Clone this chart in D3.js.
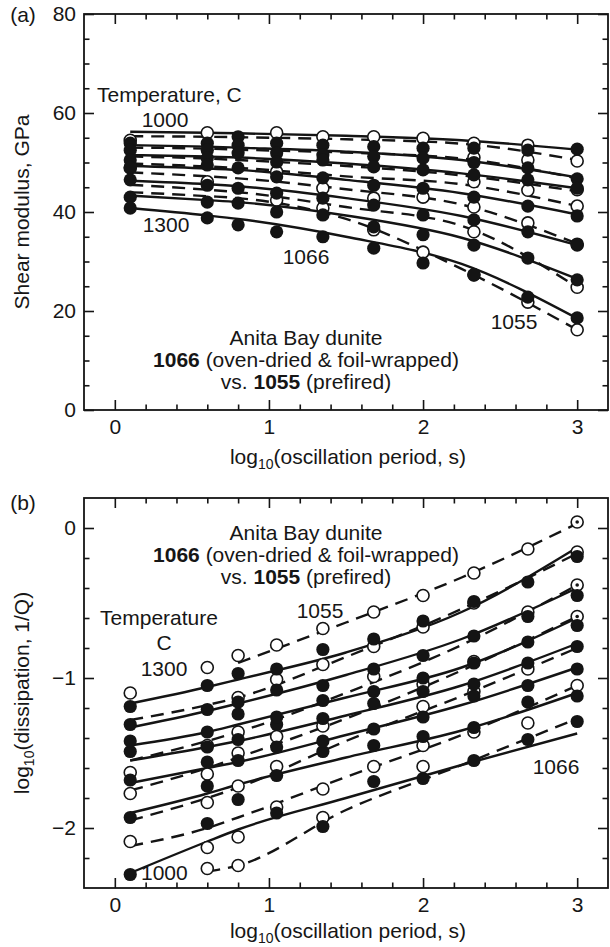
<!DOCTYPE html>
<html><head><meta charset="utf-8">
<script src="https://cdn.jsdelivr.net/npm/d3@7"></script>
<style>
body{margin:0;background:#fff}
svg{display:block}
text{font-family:"Liberation Sans",Arial,Helvetica,sans-serif;fill:#161616}
</style>
</head><body>
<svg id="c" width="610" height="947"></svg>
<script>
// ---------- data ----------
const logPeriod = [0.1, 0.6, 0.8, 1.05, 1.35, 1.68, 2.0, 2.33, 2.68, 3.0];
const temperatures = [1000, 1050, 1100, 1150, 1200, 1250, 1300];
const fitX = [0.1, 0.6, 0.8, 1.5, 2.25, 3.0];

// (a) shear modulus, GPa  (rows follow temperatures)
const modulus1066 = [
  [53.9, 53.9, 55.2, 53.9, 53.5, 53.2, 52.9, 52.9, 52.5, 52.7],
  [52.5, 52.5, 53.5, 51.9, 51.5, 51.2, 50.9, 50.0, 48.9, 46.7],
  [50.5, 50.9, 51.9, 50.1, 50.5, 49.1, 48.5, 47.5, 46.5, 44.8],
  [49.0, 49.5, 48.9, 47.1, 46.9, 45.4, 44.8, 43.0, 41.2, 39.2],
  [46.5, 45.4, 44.8, 43.8, 42.8, 41.4, 39.4, 38.4, 36.0, 33.3],
  [43.0, 42.0, 41.8, 40.0, 39.4, 37.0, 35.4, 33.3, 30.7, 26.3],
  [40.8, 38.8, 37.4, 36.0, 35.0, 32.7, 29.7, 27.3, 22.8, 18.6]
];
const modulus1055 = [
  [54.5, 56.0, null, 56.0, 55.2, 55.2, 54.9, 53.9, 53.5, 50.3],
  [null, null, null, null, null, null, null, 51.0, 50.5, null],
  [null, null, null, null, null, null, null, null, null, 44.5],
  [null, null, null, null, null, null, null, 46.1, 44.4, 41.2],
  [48.9, 46.1, null, 48.1, 44.8, 42.8, 43.0, 41.0, 37.8, 33.5],
  [null, null, null, null, null, null, null, 36.0, null, 24.8],
  [null, null, null, 42.4, 40.8, 36.4, 31.9, 27.3, 21.8, 16.2]
];
const modulusFit1066 = [
  [56.2, 56.0, 55.9, 55.4, 54.5, 52.6],
  [53.5, 53.2, 53.0, 52.2, 50.5, 47.0],
  [51.5, 51.2, 51.0, 49.8, 47.8, 44.8],
  [49.3, 48.8, 48.5, 46.5, 43.8, 39.5],
  [46.3, 45.6, 45.2, 42.8, 39.2, 33.3],
  [43.3, 42.4, 42.0, 39.3, 34.8, 26.5],
  [40.8, 39.3, 38.6, 35.0, 29.5, 18.5]
];
const modulusFit1055 = [
  [55.3, 55.2, 55.1, 54.7, 53.8, 50.5],
  [53.0, 52.8, 52.6, 52.0, 50.8, 46.8],
  [51.2, 50.8, 50.5, 49.3, 47.4, 44.2],
  [49.8, 49.2, 48.9, 47.2, 45.6, 41.2],
  [48.0, 47.2, 46.8, 44.6, 41.5, 33.6],
  [45.5, 44.5, 44.0, 41.0, 37.2, 24.8],
  [44.0, 43.2, 42.8, 38.6, 28.5, 16.2]
];

// (b) log10 dissipation
const dissipation1066 = [
  [-2.31, -1.97, null, -1.90, -1.99, -1.69, -1.67, -1.55, -1.41, -1.29],
  [-1.93, -1.72, -1.81, -1.65, -1.49, -1.45, -1.39, -1.33, -1.16, -1.12],
  [-1.68, -1.56, -1.55, -1.46, -1.42, -1.34, -1.26, -1.12, -1.05, -0.94],
  [-1.49, -1.46, -1.41, -1.31, -1.27, -1.17, -1.09, -1.04, -0.90, -0.79],
  [-1.42, -1.36, -1.24, -1.26, -1.15, -1.09, -1.00, -0.90, -0.76, -0.65],
  [-1.31, -1.21, -1.16, -1.08, -1.05, -0.94, -0.85, -0.72, -0.59, -0.45],
  [-1.19, -1.05, -0.97, -0.94, -0.81, -0.74, -0.62, -0.49, -0.36, -0.19]
];
const dissipation1055 = [
  [null, -2.27, -2.25, null, -1.93, null, -1.59, null, null, null],
  [-2.09, -2.13, -2.06, -1.86, -1.74, -1.59, -1.45, -1.36, -1.30, -1.05],
  [null, -1.83, -1.72, -1.59, null, null, -1.19, -1.09, -0.94, null],
  [-1.77, -1.64, -1.50, -1.39, -1.32, null, -1.04, -0.89, null, -0.59],
  [-1.63, -1.45, -1.36, null, null, -0.99, null, null, -0.56, -0.38],
  [null, null, -1.13, -1.01, -0.91, -0.79, -0.66, -0.50, null, -0.16],
  [-1.10, -0.93, -0.85, -0.78, -0.67, -0.56, -0.45, -0.30, -0.14, 0.04]
];
// small dots seen inside some open circles at the longest period
const dottedPeriod = [3.0, 3.0, 3.0];
const dottedDissipation = [0.04, -0.38, -0.59];

const dissipationFit1066 = [
  [-2.30, -2.09, -2.01, -1.80, -1.58, -1.37],
  [-1.90, -1.77, -1.71, -1.53, -1.35, -1.10],
  [-1.70, -1.60, -1.56, -1.38, -1.18, -0.93],
  [-1.55, -1.46, -1.42, -1.25, -1.05, -0.77],
  [-1.45, -1.36, -1.31, -1.13, -0.93, -0.60],
  [-1.33, -1.22, -1.17, -0.98, -0.74, -0.40],
  [-1.17, -1.06, -1.01, -0.83, -0.56, -0.13]
];
const dissipationFit1055 = [
  [null, -2.29, -2.25, -1.88, -1.58, -1.27],
  [-2.12, -2.00, -1.93, -1.66, -1.38, -1.05],
  [-1.95, -1.80, -1.73, -1.42, -1.12, -0.80],
  [-1.75, -1.60, -1.53, -1.27, -0.95, -0.59],
  [-1.55, -1.42, -1.36, -1.10, -0.78, -0.38],
  [-1.28, -1.18, -1.13, -0.86, -0.54, -0.17],
  [null, null, -0.90, -0.63, -0.33, 0.03]
];

// ticks
const xMajor = [0, 1, 2, 3];
const xMinor = [0.2, 0.4, 0.6, 0.8, 1.2, 1.4, 1.6, 1.8, 2.2, 2.4, 2.6, 2.8];
const modulusMajor = [0, 20, 40, 60, 80];
const modulusMinor = [5, 10, 15, 25, 30, 35, 45, 50, 55, 65, 70, 75];
const dissMajor = [-2, -1, 0];
const dissMinor = [-2.2, -1.8, -1.6, -1.4, -1.2, -0.8, -0.6, -0.4, -0.2];

// ---------- drawing ----------
const svg = d3.select("#c");
const INK = "#141414";
const FS = 21;
const X0 = 84, X1 = 608;

const xA = d3.scaleLinear().domain([-0.2, 3.2]).range([X0, X1]);
const yA = d3.scaleLinear().domain([0, 80]).range([410, 14]);
const xB = d3.scaleLinear().domain([-0.2, 3.2]).range([X0, X1]);
const yB = d3.scaleLinear().domain([-2.4, 0.2]).range([888, 498]);

function styleAxis(sel){
  sel.select(".domain").remove();
  sel.selectAll(".tick line").attr("stroke", INK).attr("stroke-width", 1.6);
  sel.selectAll(".tick text").attr("font-size", FS).attr("fill", INK)
     .attr("font-family", '"Liberation Sans",Arial,Helvetica,sans-serif');
}

function axes(g, x, y, yMaj, yMin){
  const [yb, yt] = y.range();
  const [xl, xr] = x.range();
  const fmt = d3.format("d");
  g.append("g").attr("transform", `translate(0,${yb})`)
    .call(d3.axisBottom(x).tickValues(xMajor).tickSizeInner(-10).tickSizeOuter(0).tickPadding(9).tickFormat(fmt)).call(styleAxis);
  g.append("g").attr("transform", `translate(0,${yb})`)
    .call(d3.axisBottom(x).tickValues(xMinor).tickSizeInner(-5.5).tickSizeOuter(0).tickFormat("")).call(styleAxis);
  g.append("g").attr("transform", `translate(0,${yt})`)
    .call(d3.axisTop(x).tickValues(xMajor).tickSizeInner(-10).tickSizeOuter(0).tickFormat("")).call(styleAxis);
  g.append("g").attr("transform", `translate(0,${yt})`)
    .call(d3.axisTop(x).tickValues(xMinor).tickSizeInner(-5.5).tickSizeOuter(0).tickFormat("")).call(styleAxis);
  g.append("g").attr("transform", `translate(${xl},0)`)
    .call(d3.axisLeft(y).tickValues(yMaj).tickSizeInner(-10).tickSizeOuter(0).tickPadding(8).tickFormat(fmt)).call(styleAxis);
  g.append("g").attr("transform", `translate(${xl},0)`)
    .call(d3.axisLeft(y).tickValues(yMin).tickSizeInner(-5.5).tickSizeOuter(0).tickFormat("")).call(styleAxis);
  g.append("g").attr("transform", `translate(${xr},0)`)
    .call(d3.axisRight(y).tickValues(yMaj).tickSizeInner(-10).tickSizeOuter(0).tickFormat("")).call(styleAxis);
  g.append("g").attr("transform", `translate(${xr},0)`)
    .call(d3.axisRight(y).tickValues(yMin).tickSizeInner(-5.5).tickSizeOuter(0).tickFormat("")).call(styleAxis);
  g.append("rect").attr("x", xl).attr("y", yt).attr("width", xr - xl).attr("height", yb - yt)
    .attr("fill", "none").attr("stroke", INK).attr("stroke-width", 1.8);
}

function series(g, x, y, fits1066, fits1055, pts1066, pts1055){
  const line = d3.line()
    .defined(d => d[1] != null)
    .x(d => x(d[0])).y(d => y(d[1]))
    .curve(d3.curveMonotoneX);
  fits1055.forEach(row => {
    g.append("path").attr("d", line(fitX.map((v, i) => [v, row[i]])))
      .attr("fill", "none").attr("stroke", INK).attr("stroke-width", 2.4)
      .attr("stroke-dasharray", "13,8");
  });
  fits1066.forEach(row => {
    g.append("path").attr("d", line(fitX.map((v, i) => [v, row[i]])))
      .attr("fill", "none").attr("stroke", INK).attr("stroke-width", 2.4);
  });
  pts1055.forEach(row => {
    g.selectAll(null).data(logPeriod.map((v, i) => [v, row[i]]).filter(d => d[1] != null))
      .join("circle").attr("cx", d => x(d[0])).attr("cy", d => y(d[1])).attr("r", 6)
      .attr("fill", "#fff").attr("stroke", INK).attr("stroke-width", 1.6);
  });
  pts1066.forEach(row => {
    g.selectAll(null).data(logPeriod.map((v, i) => [v, row[i]]).filter(d => d[1] != null))
      .join("circle").attr("cx", d => x(d[0])).attr("cy", d => y(d[1])).attr("r", 6.6)
      .attr("fill", INK).attr("stroke", "none");
  });
}

function txt(g, x, y, s, anchor){
  return g.append("text").attr("x", x).attr("y", y).attr("dy", "0.35em")
    .attr("font-size", FS).attr("text-anchor", anchor || "middle").text(s);
}
function block(g, cx, y0, step){
  txt(g, cx, y0, "Anita Bay dunite");
  const t2 = g.append("text").attr("x", cx).attr("y", y0 + step).attr("dy", "0.35em")
    .attr("font-size", FS).attr("text-anchor", "middle");
  t2.append("tspan").attr("font-weight", "bold").text("1066");
  t2.append("tspan").text(" (oven-dried & foil-wrapped)");
  const t3 = g.append("text").attr("x", cx).attr("y", y0 + 2 * step).attr("dy", "0.35em")
    .attr("font-size", FS).attr("text-anchor", "middle");
  t3.append("tspan").text("vs. ");
  t3.append("tspan").attr("font-weight", "bold").text("1055");
  t3.append("tspan").text(" (prefired)");
}
function xTitle(g, y){
  const t = g.append("text").attr("x", 348).attr("y", y).attr("dy", "0.35em")
    .attr("font-size", FS).attr("text-anchor", "middle");
  t.append("tspan").text("log");
  t.append("tspan").attr("font-size", 14).attr("dy", 5).text("10");
  t.append("tspan").attr("dy", -5).text("(oscillation period, s)");
}

// ----- panel (a) -----
const gA = svg.append("g");
series(gA, xA, yA, modulusFit1066, modulusFit1055, modulus1066, modulus1055);
axes(gA, xA, yA, modulusMajor, modulusMinor);
txt(gA, 23, 15, "(a)");
gA.append("text").attr("transform", `translate(22,${(yA.range()[0] + yA.range()[1]) / 2}) rotate(-90)`)
  .attr("dy", "0.35em").attr("font-size", FS).attr("text-anchor", "middle").text("Shear modulus, GPa");
xTitle(gA, 457);
txt(gA, 97, 95, "Temperature, C", "start");
txt(gA, 165, 120, "1000");
txt(gA, 166, 225, "1300");
txt(gA, 306, 257, "1066");
txt(gA, 514, 322, "1055");
block(gA, 306, 338, 22);

// ----- panel (b) -----
const gB = svg.append("g");
series(gB, xB, yB, dissipationFit1066, dissipationFit1055, dissipation1066, dissipation1055);
gB.selectAll(null).data(dottedPeriod.map((v, i) => [v, dottedDissipation[i]]))
  .join("circle").attr("cx", d => xB(d[0])).attr("cy", d => yB(d[1])).attr("r", 1.8)
  .attr("fill", INK);
axes(gB, xB, yB, dissMajor, dissMinor);
txt(gB, 23, 503, "(b)");
const yt = gB.append("text").attr("transform", `translate(22,${(yB.range()[0] + yB.range()[1]) / 2}) rotate(-90)`)
  .attr("dy", "0.35em").attr("font-size", FS).attr("text-anchor", "middle");
yt.append("tspan").text("log");
yt.append("tspan").attr("font-size", 14).attr("dy", 5).text("10");
yt.append("tspan").attr("dy", -5).text("(dissipation, 1/Q)");
xTitle(gB, 931);
txt(gB, 159, 618, "Temperature");
txt(gB, 164, 643, "C");
txt(gB, 164, 669, "1300");
txt(gB, 320, 611, "1055");
txt(gB, 556, 767, "1066");
txt(gB, 141, 873, "1000", "start");
block(gB, 306, 533, 22);
</script>
</body></html>
